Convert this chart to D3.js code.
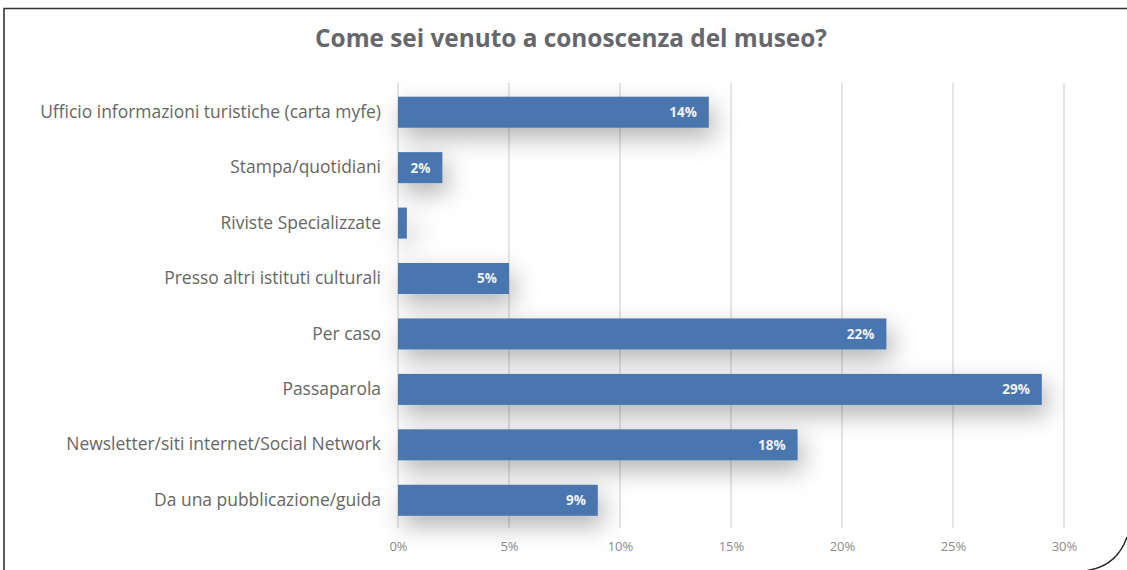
<!DOCTYPE html>
<html>
<head>
<meta charset="utf-8">
<script src="https://cdn.jsdelivr.net/npm/d3@7"></script>
<style>
  html, body { margin: 0; padding: 0; background: #fff; }
  svg { display: block; }
</style>
</head>
<body>
<svg id="chart" width="1127" height="570"></svg>
<script>
// Survey answers: how visitors found out about the museum
const categories = [
  "Ufficio informazioni turistiche (carta myfe)",
  "Stampa/quotidiani",
  "Riviste Specializzate",
  "Presso altri istituti culturali",
  "Per caso",
  "Passaparola",
  "Newsletter/siti internet/Social Network",
  "Da una pubblicazione/guida"
];
const shares = [14, 2, 0.4, 5, 22, 29, 18, 9];          // percent
const showLabel = [true, true, false, true, true, true, true, true];
const xTicks = [0, 5, 10, 15, 20, 25, 30];
const titleText = "Come sei venuto a conoscenza del museo?";

const svg = d3.select("#chart");
const W = 1127, H = 570;
const sans = "'Open Sans', 'Liberation Sans', sans-serif";

const margin = { left: 398, right: 63, top: 84.5, bottom: 42 };

const x = d3.scaleLinear().domain([0, 30]).range([margin.left, W - margin.right]);
const y = d3.scaleBand()
  .domain(categories)
  .range([margin.top, H - margin.bottom])
  .paddingInner(0.44)
  .paddingOuter(0.22);

// soft shadow under the bars
const defs = svg.append("defs");
const f = defs.append("filter").attr("id", "barShadow")
  .attr("x", "-20%").attr("y", "-100%").attr("width", "150%").attr("height", "400%");
f.append("feDropShadow")
  .attr("dx", 5).attr("dy", 10).attr("stdDeviation", 12)
  .attr("flood-color", "#000").attr("flood-opacity", 0.3);

// frame with curled lower-right corner
svg.append("path")
  .attr("d", `M4,${H} V8.5 H${W}`)
  .attr("fill", "none").attr("stroke", "#333").attr("stroke-width", 1.6);
svg.append("path")
  .attr("d", `M${W},537 C1119,560 1102,569 1084,${H + 1}`)
  .attr("fill", "none").attr("stroke", "#222").attr("stroke-width", 1.3);

// title
const title = svg.append("text")
  .attr("x", 571).attr("y", 47)
  .attr("text-anchor", "middle")
  .attr("font-family", sans)
  .attr("font-weight", "bold")
  .attr("font-size", 20)
  .attr("fill", "#66666b")
  .text(titleText);
{
  const w = title.node().getComputedTextLength();
  title.attr("font-size", 20 * 512 / w);
}

// vertical gridlines
const gridTop = 83, gridBottom = 528;
svg.append("g").selectAll("line")
  .data(xTicks)
  .join("line")
  .attr("x1", d => x(d)).attr("x2", d => x(d))
  .attr("y1", gridTop).attr("y2", gridBottom)
  .attr("stroke", "#d4d4d4").attr("stroke-width", 1.2);

// bars
svg.append("g").attr("filter", "url(#barShadow)")
  .selectAll("rect")
  .data(categories)
  .join("rect")
  .attr("x", x(0))
  .attr("y", d => y(d))
  .attr("width", (d, i) => x(shares[i]) - x(0))
  .attr("height", y.bandwidth())
  .attr("fill", "#4876ae");

// value labels inside the bars
svg.append("g").selectAll("text")
  .data(categories.filter((d, i) => showLabel[i]))
  .join("text")
  .attr("x", d => x(shares[categories.indexOf(d)]) - 12)
  .attr("y", d => y(d) + y.bandwidth() / 2)
  .attr("dy", "0.36em")
  .attr("text-anchor", "end")
  .attr("font-family", sans)
  .attr("font-weight", "bold")
  .attr("font-size", 13.5)
  .attr("fill", "#eef2f8")
  .text(d => d3.format("d")(shares[categories.indexOf(d)]) + "%");

// category axis (labels only)
const yAxis = svg.append("g")
  .attr("transform", `translate(${x(0) - 17},0)`)
  .call(d3.axisLeft(y).tickSize(0).tickPadding(0));
yAxis.select(".domain").remove();
yAxis.selectAll("text")
  .attr("font-family", sans)
  .attr("font-size", 13)
  .attr("fill", "#666");
{
  // size the labels so the longest one spans 341px
  let maxW = 0;
  yAxis.selectAll("text").each(function () { maxW = Math.max(maxW, this.getComputedTextLength()); });
  yAxis.selectAll("text").attr("font-size", 13 * 341 / maxW);
}

// percent axis
const xAxis = svg.append("g")
  .attr("transform", `translate(0,${gridBottom})`)
  .call(d3.axisBottom(x).tickValues(xTicks).tickSize(0).tickPadding(14)
    .tickFormat(d => d + "%"));
xAxis.select(".domain").remove();
xAxis.selectAll("text")
  .attr("font-family", sans)
  .attr("font-size", 13)
  .attr("fill", "#8a8a8a");
</script>
</body>
</html>
